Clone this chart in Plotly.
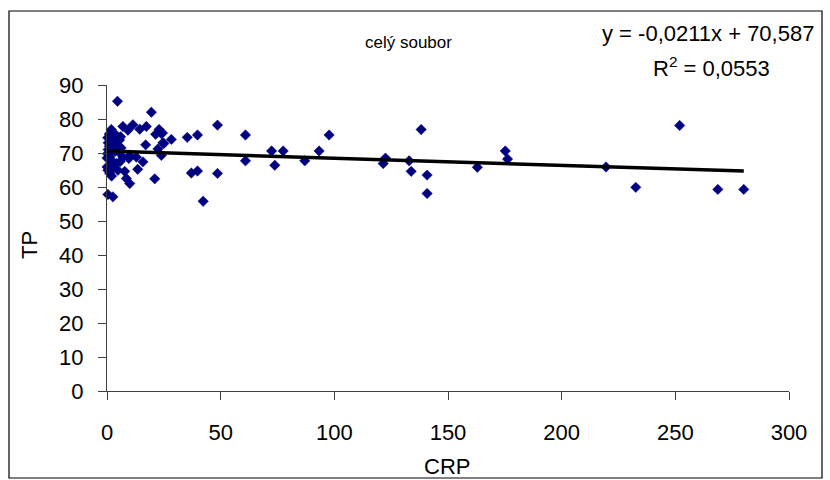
import plotly.graph_objects as go

# CRP vs TP, whole data set
crp = [219.5, 232.6, 251.9, 268.7, 280.1,
       175.2, 176.2, 162.9, 140.8, 140.8, 138.2, 133.8, 132.9, 122.5, 121.5,
       97.7, 93.3, 87.0, 77.5, 73.8, 72.4, 60.9, 60.9, 48.6, 48.6, 42.3,
       39.8, 39.8, 37.1, 35.3, 28.3,
       24.4, 25.0, 23.9, 22.9, 23.9, 24.6, 22.4, 21.0, 21.4, 19.5, 17.3, 17.0,
       15.8, 14.4, 13.5, 12.9, 11.4, 10.0, 10.0, 9.6, 9.2, 8.5, 7.8, 7.0, 7.0,
       4.6, 4.1, 4.1, 4.8, 1.9, 2.6, 1.2, 0.4, 0.4, 2.6, 0.0, 0.0, 1.2,
       0.3, 0.5, 1.0, 0.5, 1.5, 0.2, 2.0, 2.5, 3.0, 3.2, 3.6, 5.0, 5.5, 2.2,
       1.0, 5.2, 6.0, 6.2, 1.5, 3.0, 2.0, 5.8]
tp = [65.9, 59.9, 78.1, 59.3, 59.3,
      70.6, 68.2, 65.8, 63.5, 58.1, 76.9, 64.6, 67.7, 68.5, 66.9,
      75.3, 70.6, 67.7, 70.6, 66.4, 70.6, 75.3, 67.7, 78.2, 64.0, 55.8,
      75.3, 64.7, 64.1, 74.6, 74.0,
      75.9, 72.8, 69.3, 76.9, 75.7, 73.0, 71.2, 62.4, 75.5, 82.0, 77.8, 72.4,
      67.4, 77.0, 65.2, 68.8, 78.3, 69.3, 61.0, 68.4, 76.7, 62.5, 64.6, 77.8, 68.8,
      85.2, 75.2, 66.9, 64.9, 76.9, 67.4, 68.8, 64.9, 57.8, 57.1, 68.5, 65.9, 64.0,
      74.5, 73.0, 72.0, 71.0, 70.0, 69.8, 74.2, 72.6, 71.5, 73.6, 70.5, 72.2, 73.8, 75.8,
      75.6, 70.3, 74.8, 71.5, 66.5, 65.8, 63.2, 67.5]

# linear trend as stated in the equation label
slope = -0.0211
intercept = 70.587
r_squared = 0.0553

x_ticks = [0, 50, 100, 150, 200, 250, 300]
y_ticks = [0, 10, 20, 30, 40, 50, 60, 70, 80, 90]

W, H = 830, 480
L, R, T, B = 107, 41, 85, 89
pw, ph = W - L - R, H - T - B


def px(x):
    return (x - L) / pw


def py(y):
    return (H - B - y) / ph


def fmt(v, nd):
    return f"{v:.{nd}f}".replace(".", ",")


x_line = [min(crp), max(crp)]
y_line = [slope * v + intercept for v in x_line]

fig = go.Figure()
fig.add_trace(go.Scatter(
    x=crp, y=tp, mode="markers",
    marker=dict(symbol="diamond", size=8, color="#000080",
                line=dict(color="#000080", width=0.5)),
    cliponaxis=False, showlegend=False))
fig.add_trace(go.Scatter(
    x=x_line, y=y_line, mode="lines",
    line=dict(color="black", width=3.5), showlegend=False))

font = "Liberation Sans, Arial, sans-serif"
axis_common = dict(showgrid=False, zeroline=False, showline=True,
                   linecolor="#404040", linewidth=1, ticks="outside",
                   ticklen=8, tickcolor="#404040",
                   tickfont=dict(family=font, size=22, color="black"))


def label(text, x, y, size, **kw):
    return dict(text=text, x=px(x), y=py(y), xref="paper", yref="paper",
                xanchor="center", yanchor="middle", showarrow=False,
                font=dict(size=size), **kw)


fig.update_layout(
    width=W, height=H,
    margin=dict(l=L, r=R, t=T, b=B),
    plot_bgcolor="white", paper_bgcolor="white",
    font=dict(family=font, color="black"),
    xaxis=dict(range=[0, 300], tickvals=x_ticks, ticklabelstandoff=14,
               **axis_common),
    yaxis=dict(range=[0, 90], tickvals=y_ticks, ticklabelstandoff=10,
               **axis_common),
    shapes=[dict(type="rect", xref="paper", yref="paper",
                 x0=px(9), x1=px(822), y0=py(478), y1=py(11),
                 line=dict(color="black", width=1.2))],
    annotations=[
        label("celý soubor", 408, 42, 17),
        label(f"y = {fmt(slope, 4)}x + {fmt(intercept, 3)}", 708, 34, 22),
        label(f"R<sup>2</sup> = {fmt(r_squared, 4)}", 711, 67, 22),
        label("CRP", 447, 466, 22),
        label("TP", 30, 245, 22, textangle=-90),
    ],
)

fig.write_html("out.html")
